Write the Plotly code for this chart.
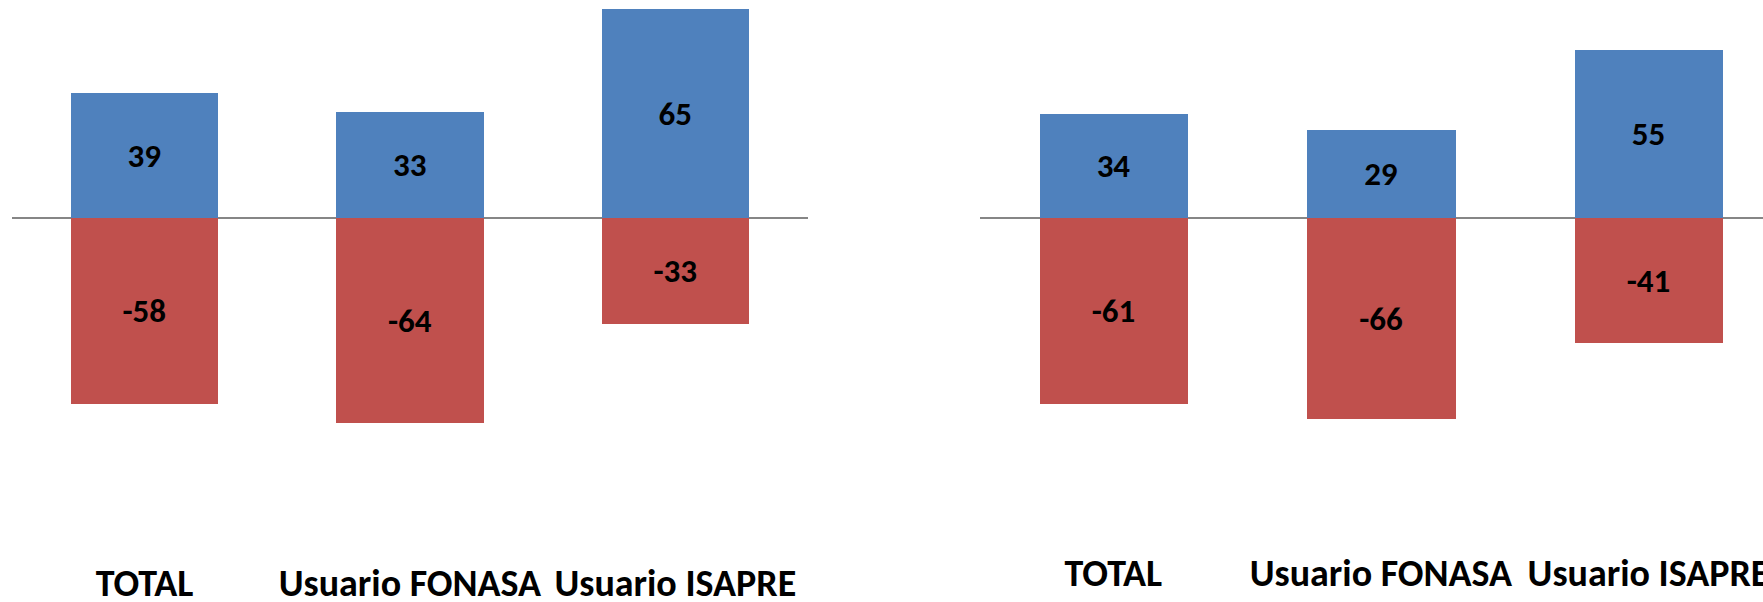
import plotly.graph_objects as go

categories = ["TOTAL", "Usuario FONASA", "Usuario ISAPRE"]

left_pos = [39, 33, 65]
left_neg = [-58, -64, -33]

right_pos = [34, 29, 55]
right_neg = [-61, -66, -41]

BLUE = "#4F81BD"
RED = "#C0504D"
FONT = "Carlito, Calibri, Lato, Liberation Sans, sans-serif"

W, H = 1763, 602

fig = go.Figure()

def add_pair(pos, neg, xa, ya):
    for vals, col in ((pos, BLUE), (neg, RED)):
        fig.add_trace(go.Bar(
            x=categories, y=vals, xaxis=xa, yaxis=ya,
            marker=dict(color=col, line=dict(width=0)),
            width=0.555,
            text=[str(v) for v in vals],
            textposition="inside", insidetextanchor="middle",
            textangle=0,
            textfont=dict(family=FONT, size=33, color="black", weight="bold"),
            showlegend=False, hoverinfo="x+y",
        ))

add_pair(left_pos, left_neg, "x", "y")
add_pair(right_pos, right_neg, "x2", "y2")

# pixel geometry
zero_px = 218
left_scale = 3.21
right_scale = 3.05
left_bottom_px = 540
right_bottom_px = 527

left_x0, left_x1 = 11.8, 808.0
right_x0 = 979.5
right_spacing = 267.6

axis_common = dict(showgrid=False, showline=False, ticks="", zeroline=False,
                   automargin=False,
                   tickfont=dict(family=FONT, size=38, color="black", weight="bold"))

ycommon = dict(showticklabels=False, showgrid=False, showline=False, automargin=False,
               zeroline=True, zerolinecolor="#868686", zerolinewidth=2)

fig.update_layout(
    width=W, height=H,
    margin=dict(l=0, r=0, t=0, b=0),
    paper_bgcolor="white", plot_bgcolor="white",
    barmode="relative", bargap=0,
    xaxis=dict(domain=[left_x0 / W, left_x1 / W], range=[-0.5, 2.5],
               anchor="y", ticklabelstandoff=17, **axis_common),
    yaxis=dict(domain=[1 - left_bottom_px / H, 1],
               range=[-(left_bottom_px - zero_px) / left_scale, zero_px / left_scale],
               **ycommon),
    xaxis2=dict(domain=[right_x0 / W, 1],
                range=[-0.5, (W - right_x0) / right_spacing - 0.5],
                anchor="y2", ticklabelstandoff=20, **axis_common),
    yaxis2=dict(domain=[1 - right_bottom_px / H, 1],
                range=[-(right_bottom_px - zero_px) / right_scale, zero_px / right_scale],
                anchor="x2", **ycommon),
)

fig.write_html("out.html")
